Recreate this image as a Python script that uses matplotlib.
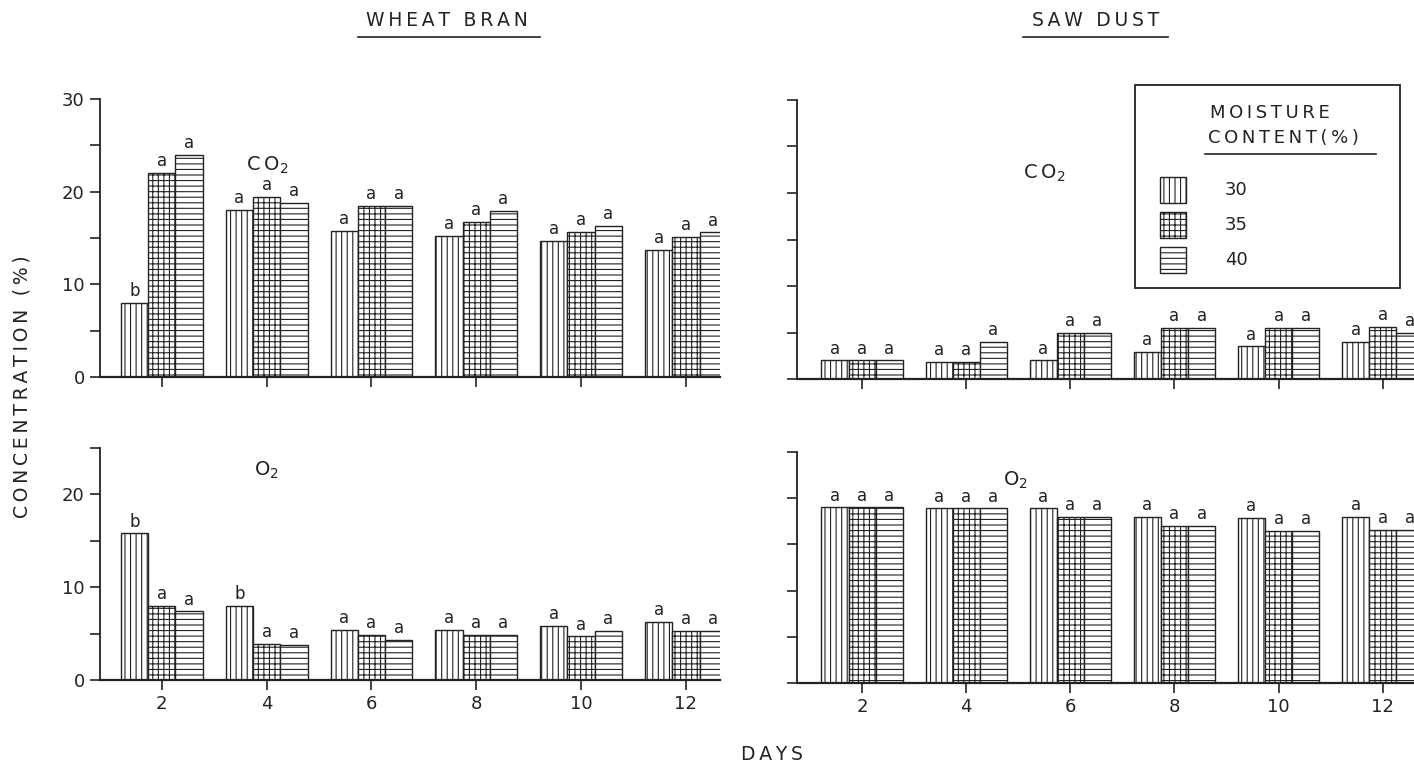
import numpy as np
import matplotlib
matplotlib.use("Agg")
import matplotlib.pyplot as plt
from matplotlib.patches import Rectangle
from matplotlib.lines import Line2D

plt.rcParams['font.family'] = ['DejaVu Sans']
plt.rcParams['hatch.linewidth'] = 0.8
plt.rcParams['hatch.color'] = '#222222'

# data
days = [2, 4, 6, 8, 10, 12]
moisture = ['30', '35', '40']
hatches = ['|||', '+++', '---']

# wheat bran, CO2 (%)
wb_co2_30 = [8.0, 18.0, 15.8, 15.2, 14.7, 13.7]
wb_co2_35 = [22.0, 19.4, 18.5, 16.7, 15.7, 15.1]
wb_co2_40 = [24.0, 18.8, 18.5, 17.9, 16.3, 15.6]
wb_co2_letters = [['b', 'a', 'a'], ['a', 'a', 'a'], ['a', 'a', 'a'],
                  ['a', 'a', 'a'], ['a', 'a', 'a'], ['a', 'a', 'a']]

# wheat bran, O2 (%)
wb_o2_30 = [15.8, 8.0, 5.4, 5.4, 5.8, 6.3]
wb_o2_35 = [8.0, 3.9, 4.9, 4.9, 4.7, 5.3]
wb_o2_40 = [7.4, 3.8, 4.3, 4.9, 5.3, 5.3]
wb_o2_letters = [['b', 'a', 'a'], ['b', 'a', 'a'], ['a', 'a', 'a'],
                 ['a', 'a', 'a'], ['a', 'a', 'a'], ['a', 'a', 'a']]

# saw dust, CO2 (%)
sd_co2_30 = [2.0, 1.8, 2.0, 2.9, 3.5, 4.0]
sd_co2_35 = [2.0, 1.8, 5.0, 5.5, 5.5, 5.6]
sd_co2_40 = [2.0, 4.0, 5.0, 5.5, 5.5, 5.0]

# saw dust, O2 (%)
sd_o2_30 = [19.0, 18.9, 18.9, 18.0, 17.9, 18.0]
sd_o2_35 = [19.0, 18.9, 18.0, 17.0, 16.5, 16.6]
sd_o2_40 = [19.0, 18.9, 18.0, 17.0, 16.5, 16.6]

all_a = [['a', 'a', 'a']] * len(days)

W, H = 1414, 765
fig = plt.figure(figsize=(W / 100, H / 100), dpi=100)
ink = '#222222'


def fbox(x0, x1, ytop, ybot):
    # pixel box -> figure fractions
    return [x0 / W, 1 - ybot / H, (x1 - x0) / W, (ybot - ytop) / H]


def spaced(s, gap='\u2009'):
    # old plotter lettering is wide, so pad the letters out a bit
    return (gap + ' ' + gap).join(gap.join(w) for w in s.split(' '))


ax_tl = fig.add_axes(fbox(100, 720, 99, 377))
ax_bl = fig.add_axes(fbox(100, 720, 448, 680))
ax_tr = fig.add_axes(fbox(797, 1414, 100, 379))
ax_br = fig.add_axes(fbox(797, 1414, 452, 683))

bar_w = 0.52


def draw_panel(ax, series, letters, ymax, xlim, show_ylabels, show_xlabels):
    x = np.array(days, dtype=float)
    for i, vals in enumerate(series):
        pos = x + (i - 1) * bar_w
        ax.bar(pos, vals, width=bar_w, facecolor='white', edgecolor=ink,
               linewidth=1.0, hatch=hatches[i], zorder=2)
        for p, v, lab in zip(pos, vals, [l[i] for l in letters]):
            ax.annotate(lab, (p, v), xytext=(0, 2), textcoords='offset points',
                        ha='center', va='bottom', fontsize=12, color=ink)
    ax.set_xlim(*xlim)
    ax.set_ylim(0, ymax)
    for s in ['top', 'right']:
        ax.spines[s].set_visible(False)
    ax.spines['left'].set_linewidth(1.3)
    ax.spines['bottom'].set_linewidth(1.6)
    ax.spines['left'].set_color(ink)
    ax.spines['bottom'].set_color(ink)
    ax.set_xticks(days)
    if show_xlabels:
        ax.set_xticklabels([str(d) for d in days])
    else:
        ax.set_xticklabels([])
    yt = np.arange(0, ymax + 1, 5)
    ax.set_yticks(yt)
    if show_ylabels:
        ax.set_yticklabels([str(int(t)) if t % 10 == 0 else '' for t in yt])
    else:
        ax.set_yticklabels([])
    ax.tick_params(direction='out', length=7, width=1.2, colors=ink,
                   labelsize=13, pad=4)
    ax.patch.set_alpha(0)


draw_panel(ax_tl, [wb_co2_30, wb_co2_35, wb_co2_40], wb_co2_letters, 30,
           (0.82, 12.65), True, False)
draw_panel(ax_bl, [wb_o2_30, wb_o2_35, wb_o2_40], wb_o2_letters, 25,
           (0.82, 12.65), True, True)
draw_panel(ax_tr, [sd_co2_30, sd_co2_35, sd_co2_40], all_a, 30,
           (0.75, 12.6), False, False)
draw_panel(ax_br, [sd_o2_30, sd_o2_35, sd_o2_40], all_a, 25,
           (0.75, 12.6), False, True)

# gas labels inside the panels
ax_tl.text(3.6, 22.3, 'C\u2009O$_2$', fontsize=14, color=ink)
ax_bl.text(3.75, 22.0, 'O$_2$', fontsize=14, color=ink)
ax_tr.text(5.1, 21.5, 'C\u2009O$_2$', fontsize=14, color=ink)
ax_br.text(4.7, 21.4, 'O$_2$', fontsize=14, color=ink)

# column titles, underlined
fig.text(447 / W, 1 - 21 / H, spaced('WHEAT BRAN'), ha='center', va='center',
         fontsize=13.5, color=ink)
fig.add_artist(Line2D([358 / W, 540 / W], [1 - 37 / H] * 2, color=ink, lw=1.2))
fig.text(1096 / W, 1 - 21 / H, spaced('SAW DUST'), ha='center', va='center',
         fontsize=13.5, color=ink)
fig.add_artist(Line2D([1023 / W, 1168 / W], [1 - 37 / H] * 2, color=ink, lw=1.2))

fig.text(22 / W, 1 - 387 / H, spaced('CONCENTRATION (%)'), rotation=90,
         ha='center', va='center', fontsize=13.5, color=ink)
fig.text(772 / W, 1 - 755 / H, spaced('DAYS'), ha='center', va='center',
         fontsize=13.5, color=ink)

# legend box drawn in figure coordinates
fig.add_artist(Rectangle((1135 / W, 1 - 288 / H), 265 / W, 203 / H,
                         transform=fig.transFigure, facecolor='white',
                         edgecolor=ink, lw=1.3))
fig.text(1210 / W, 1 - 113 / H, spaced('MOISTURE'), ha='left',
         va='center', fontsize=13, color=ink)
fig.text(1208 / W, 1 - 138 / H, spaced('CONTENT(%)'), ha='left',
         va='center', fontsize=13, color=ink)
fig.add_artist(Line2D([1205 / W, 1376 / W], [1 - 154 / H] * 2, color=ink, lw=1.2))
for k, (lab, hat) in enumerate(zip(moisture, hatches)):
    yc = 190 + k * 35
    fig.add_artist(Rectangle((1160 / W, 1 - (yc + 13) / H), 26 / W, 26 / H,
                             transform=fig.transFigure, facecolor='white',
                             edgecolor=ink, lw=1.0, hatch=hat))
    fig.text(1225 / W, 1 - yc / H, lab, ha='left', va='center',
             fontsize=13, color=ink)

fig.savefig('out.png', dpi=100)
